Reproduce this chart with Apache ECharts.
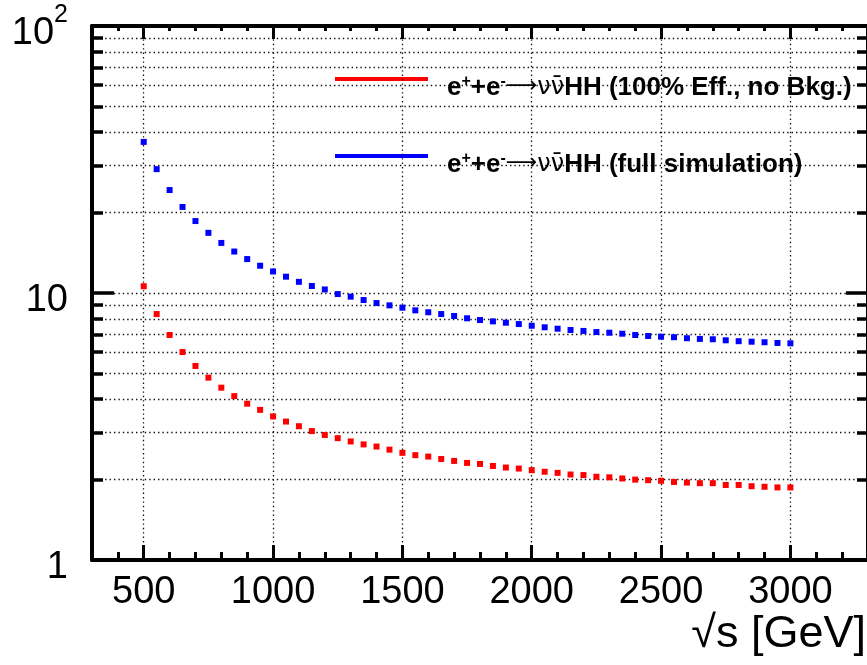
<!DOCTYPE html>
<html>
<head>
<meta charset="utf-8">
<script src="https://cdn.jsdelivr.net/npm/echarts@6/dist/echarts.min.js"></script>
<style>
  html, body { margin: 0; padding: 0; background: #fff; }
  #chart { width: 867px; height: 665px; }
</style>
</head>
<body>
<div id="chart"></div>
<script>
  // sqrt(s) in GeV
  const energies = [500, 550, 600, 650, 700, 750, 800, 850, 900, 950,
    1000, 1050, 1100, 1150, 1200, 1250, 1300, 1350, 1400, 1450,
    1500, 1550, 1600, 1650, 1700, 1750, 1800, 1850, 1900, 1950,
    2000, 2050, 2100, 2150, 2200, 2250, 2300, 2350, 2400, 2450,
    2500, 2550, 2600, 2650, 2700, 2750, 2800, 2850, 2900, 2950, 3000];
  // 100% eff., no background
  const idealValues = [10.60, 8.34, 6.96, 6.01, 5.33, 4.82, 4.42, 4.11, 3.85, 3.65,
    3.45, 3.30, 3.17, 3.04, 2.94, 2.86, 2.78, 2.71, 2.66, 2.59,
    2.52, 2.47, 2.44, 2.39, 2.35, 2.31, 2.29, 2.25, 2.22, 2.20,
    2.17, 2.14, 2.12, 2.09, 2.08, 2.05, 2.04, 2.02, 2.00, 1.99,
    1.98, 1.96, 1.95, 1.94, 1.94, 1.91, 1.91, 1.89, 1.88, 1.87, 1.87];
  // full simulation
  const fullSimValues = [36.8, 29.1, 24.3, 21.0, 18.6, 16.8, 15.4, 14.3, 13.4, 12.65,
    12.04, 11.51, 11.01, 10.62, 10.31, 9.91, 9.69, 9.41, 9.17, 8.99,
    8.81, 8.61, 8.47, 8.34, 8.20, 8.04, 7.92, 7.83, 7.74, 7.65,
    7.54, 7.44, 7.35, 7.27, 7.21, 7.14, 7.10, 7.04, 6.96, 6.90,
    6.86, 6.83, 6.77, 6.73, 6.71, 6.65, 6.60, 6.57, 6.54, 6.50, 6.48];

  const xMajorTicks = [500, 1000, 1500, 2000, 2500, 3000];
  const yMajorTicks = [1, 10, 100];
  const yMinorTicks = [2, 3, 4, 5, 6, 7, 8, 9, 20, 30, 40, 50, 60, 70, 80, 90];

  const chart = echarts.init(document.getElementById('chart'));
  const font = "'Liberation Sans', Arial, sans-serif";
  const dots = { color: '#111', width: 1.3, type: [1.4, 3] };

  function pairs(ys) {
    return energies.map(function (x, i) { return [x, ys[i]]; });
  }

  function legendText(tail) {
    return '{t|e}{s|+}{t|+e}{s|-}{a|\u27f6}{n|\u03bd}{n|\u03bd\u0304}{t|HH ' + tail + '}';
  }

  const xBase = { type: 'value', min: 300, max: 3300, gridIndex: 0 };
  const yBase = { type: 'log', logBase: 10, min: 1, max: 100, gridIndex: 0 };

  const option = {
    animation: false,
    backgroundColor: '#fff',
    grid: { left: 92, top: 26, width: 776, height: 534, outerBoundsMode: 'none', containLabel: false },
    legend: {
      orient: 'vertical',
      left: 330,
      top: 69,
      itemWidth: 93,
      itemHeight: 4,
      itemGap: 50,
      icon: 'rect',
      selectedMode: false,
      data: ['ideal', 'full'],
      formatter: function (name) {
        return name === 'ideal' ? legendText('(100% Eff., no Bkg.)') : legendText('(full simulation)');
      },
      textStyle: {
        padding: [18, 0, 0, 14],
        rich: {
          t: { fontFamily: font, fontWeight: 'bold', fontSize: 26, color: '#000' },
          s: { fontFamily: font, fontWeight: 'bold', fontSize: 16, color: '#000', padding: [0, 0, 12, 0] },
          a: { fontFamily: "'DejaVu Sans'", fontSize: 22, color: '#000', padding: [0, 0, 4, 0] },
          n: { fontFamily: "'DejaVu Sans'", fontSize: 24, color: '#000' }
        }
      }
    },
    xAxis: [
      Object.assign({}, xBase, {
        position: 'bottom', interval: 100,
        axisLine: { lineStyle: { color: '#000', width: 4 } },
        axisTick: { inside: true, length: 8, lineStyle: { color: '#000', width: 3 } },
        axisLabel: { show: false },
        splitLine: { show: false }
      }),
      Object.assign({}, xBase, {
        position: 'bottom',
        axisLine: { show: false },
        axisTick: { inside: true, length: 15, customValues: xMajorTicks, lineStyle: { color: '#000', width: 3 } },
        axisLabel: {
          customValues: xMajorTicks, margin: 14,
          fontFamily: font, fontSize: 38, color: '#000',
          formatter: function (v) { return String(v); }
        },
        splitLine: { show: false },
        name: '\u221as [GeV]',
        nameLocation: 'end',
        nameGap: 0,
        nameMoveOverlap: false,
        nameTextStyle: { fontFamily: font, fontSize: 45, color: '#000', align: 'right', verticalAlign: 'top', padding: [52, 2, 0, 0] }
      }),
      Object.assign({}, xBase, {
        position: 'top', interval: 100,
        axisLine: { lineStyle: { color: '#000', width: 4 } },
        axisTick: { inside: true, length: 5, lineStyle: { color: '#000', width: 3 } },
        axisLabel: { show: false },
        splitLine: { show: false }
      }),
      Object.assign({}, xBase, {
        position: 'top',
        axisLine: { show: false },
        axisTick: { inside: true, length: 13, customValues: xMajorTicks, lineStyle: { color: '#000', width: 3 } },
        axisLabel: { show: false },
        splitLine: { show: false }
      })
    ],
    yAxis: [
      Object.assign({}, yBase, {
        position: 'left',
        axisLine: { lineStyle: { color: '#000', width: 4 } },
        axisTick: { inside: true, length: 22, customValues: yMajorTicks, lineStyle: { color: '#000', width: 3.5 } },
        axisLabel: {
          customValues: yMajorTicks,
          margin: 24,
          formatter: function (v) { return v >= 100 ? '{b|10}{p|2}' : '{b|' + v + '}'; },
          rich: {
            b: { fontFamily: font, fontSize: 38, color: '#000', padding: [16, 0, 0, 0] },
            p: { fontFamily: font, fontSize: 25, color: '#000', padding: [0, 0, 22, 0] }
          }
        },
        splitLine: { show: true, lineStyle: dots }
      }),
      Object.assign({}, yBase, {
        position: 'left',
        axisLine: { show: false },
        axisTick: { inside: true, length: 11, customValues: yMinorTicks, lineStyle: { color: '#000', width: 3.5 } },
        axisLabel: { show: false },
        splitLine: { show: true, lineStyle: dots }
      }),
      Object.assign({}, yBase, {
        position: 'right',
        axisLine: { lineStyle: { color: '#000', width: 4 } },
        axisTick: { inside: true, length: 22, customValues: yMajorTicks, lineStyle: { color: '#000', width: 3.5 } },
        axisLabel: { show: false },
        splitLine: { show: false }
      }),
      Object.assign({}, yBase, {
        position: 'right',
        axisLine: { show: false },
        axisTick: { inside: true, length: 11, customValues: yMinorTicks, lineStyle: { color: '#000', width: 3.5 } },
        axisLabel: { show: false },
        splitLine: { show: false }
      })
    ],
    series: [
      {
        name: 'ideal',
        type: 'scatter',
        xAxisIndex: 0, yAxisIndex: 0,
        symbol: 'rect', symbolSize: 6,
        itemStyle: { color: '#ff0000', opacity: 1 },
        data: pairs(idealValues),
        // vertical grid lines at the labelled energies
        markLine: {
          silent: true,
          symbol: 'none',
          label: { show: false },
          lineStyle: dots,
          data: xMajorTicks.map(function (v) { return { xAxis: v }; })
        },
        z: 5
      },
      {
        name: 'full',
        type: 'scatter',
        xAxisIndex: 0, yAxisIndex: 0,
        symbol: 'rect', symbolSize: 6,
        itemStyle: { color: '#0000ff', opacity: 1 },
        data: pairs(fullSimValues),
        z: 5
      }
    ]
  };

  chart.setOption(option);
</script>
</body>
</html>
